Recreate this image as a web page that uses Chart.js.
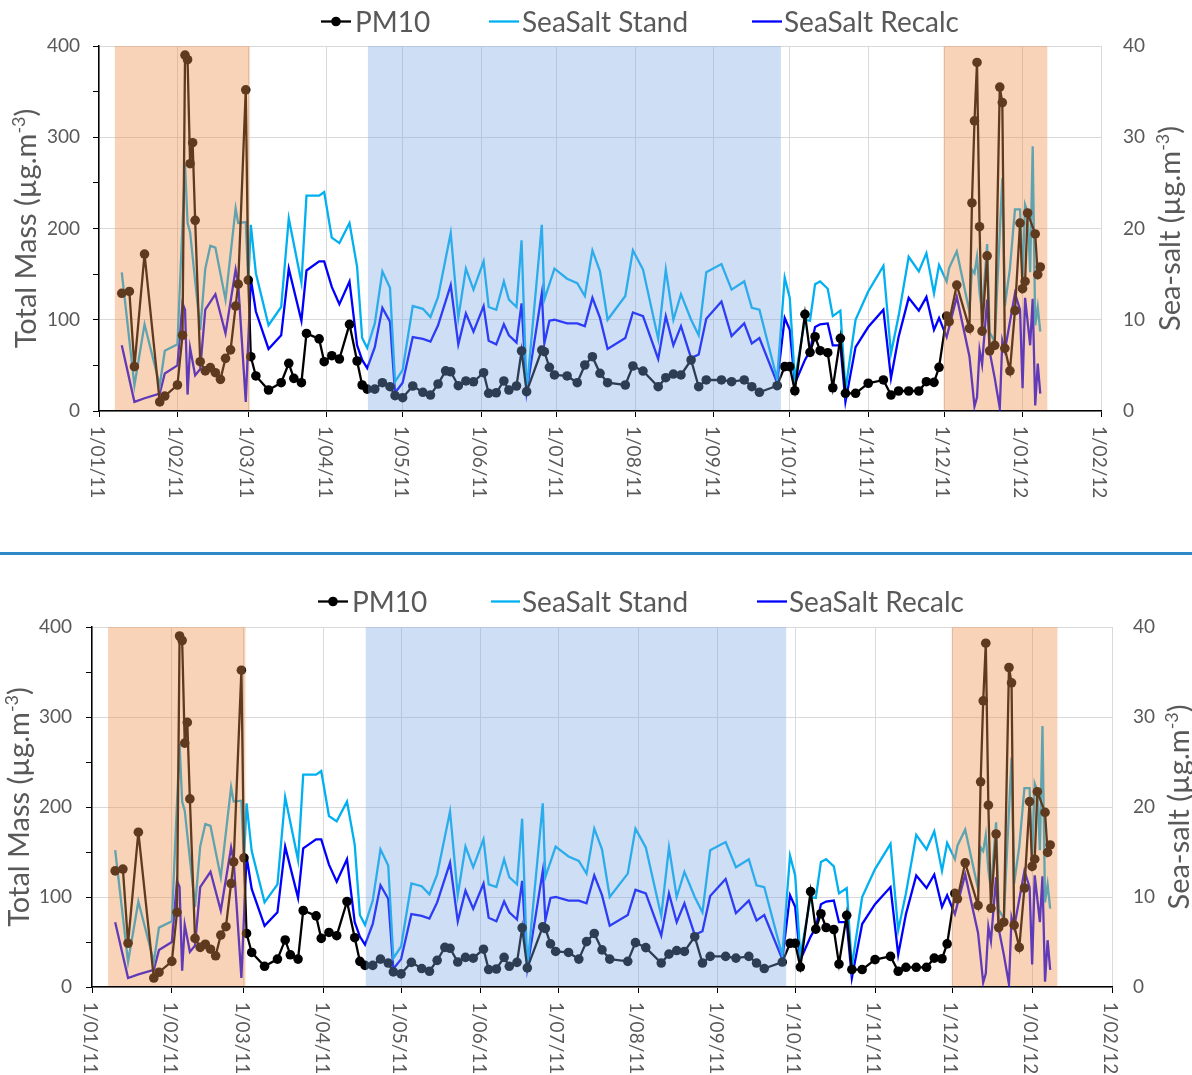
<!DOCTYPE html>
<html>
<head>
<meta charset="utf-8">
<script src="https://cdn.jsdelivr.net/npm/chart.js@4/dist/chart.umd.min.js"></script>
<style>
  html, body { margin: 0; padding: 0; background: #fff; width: 1192px; height: 1075px; overflow: hidden; }
  .panel { position: absolute; left: 0; width: 1192px; }
  #panelTop { top: 0; height: 552px; }
  #panelBottom { top: 555px; height: 520px; }
  #divider { position: absolute; left: 0; top: 552px; width: 1192px; height: 3px; background: #2F88C8; }
  canvas { display: block; }
</style>
</head>
<body>
<div class="panel" id="panelTop"><canvas id="chartTop" width="1192" height="552"></canvas></div>
<div id="divider"></div>
<div class="panel" id="panelBottom"><canvas id="chartBottom" width="1192" height="520"></canvas></div>
<script>
// Sampling dates (daily filter samples, Jan 2011 - Jan 2012)
const sampleDates = [
  '2011-01-10','2011-01-13','2011-01-15','2011-01-19','2011-01-25','2011-01-27','2011-02-01','2011-02-03',
  '2011-02-04','2011-02-05','2011-02-06','2011-02-07','2011-02-08','2011-02-10','2011-02-12','2011-02-14',
  '2011-02-16','2011-02-18','2011-02-20','2011-02-22','2011-02-24','2011-02-25','2011-02-28','2011-03-01',
  '2011-03-02','2011-03-04','2011-03-09','2011-03-14','2011-03-17','2011-03-19','2011-03-22','2011-03-24',
  '2011-03-29','2011-03-31','2011-04-03','2011-04-06','2011-04-10','2011-04-13','2011-04-15','2011-04-17',
  '2011-04-20','2011-04-23','2011-04-26','2011-04-28','2011-05-01','2011-05-05','2011-05-09','2011-05-12',
  '2011-05-15','2011-05-18','2011-05-20','2011-05-23','2011-05-26','2011-05-29','2011-06-02','2011-06-04',
  '2011-06-07','2011-06-10','2011-06-12','2011-06-15','2011-06-17','2011-06-19','2011-06-25','2011-06-26',
  '2011-06-28','2011-06-30','2011-07-05','2011-07-09','2011-07-12','2011-07-15','2011-07-18','2011-07-21',
  '2011-07-28','2011-07-31','2011-08-04','2011-08-10','2011-08-13','2011-08-16','2011-08-19','2011-08-23',
  '2011-08-26','2011-08-29','2011-09-04','2011-09-08','2011-09-13','2011-09-16','2011-09-19','2011-09-26',
  '2011-09-29','2011-10-01','2011-10-03','2011-10-07','2011-10-09','2011-10-11','2011-10-13','2011-10-16',
  '2011-10-18','2011-10-21','2011-10-23','2011-10-27','2011-11-01','2011-11-07','2011-11-10','2011-11-13',
  '2011-11-17','2011-11-21','2011-11-24','2011-11-27','2011-11-29','2011-12-02','2011-12-03','2011-12-06',
  '2011-12-11','2011-12-12','2011-12-13','2011-12-14','2011-12-15','2011-12-16','2011-12-18','2011-12-19',
  '2011-12-21','2011-12-23','2011-12-24','2011-12-25','2011-12-27','2011-12-29','2011-12-31','2012-01-01',
  '2012-01-02','2012-01-03','2012-01-04','2012-01-05','2012-01-06','2012-01-07','2012-01-08'
];

// PM10 total mass (µg/m3, left axis)
const pm10 = [
  129, 131, 48.6, 172, 10, 16.4, 28.5, 83,
  390, 385, 271, 294, 209, 54, 44, 47.5,
  42, 34.7, 57.7, 67, 115, 139, 352, 143.5,
  59.5, 38.4, 23, 31, 52.3, 35.8, 31, 85,
  79, 54, 60.6, 57, 95, 54.8, 28.5, 24,
  24, 31, 26.6, 16.8, 14.6, 27.4, 20.5, 17.5,
  29.6, 44, 43, 27.7, 32.9, 32, 42, 19.4,
  20, 32.9, 23, 27.4, 65.8, 21.2, 66.8, 65,
  47.9, 39.5, 38.4, 31, 50.4, 59.5, 41.3, 31,
  28.5, 49.3, 43.8, 26.6, 36.5, 40.5, 39.5, 55.9,
  26.6, 34, 34, 32.1, 34, 26.6, 20.5, 27.7,
  48.6, 48.6, 22.2, 106, 64.3, 81.4, 66.1, 63.9,
  25.5, 79.7, 19.4, 19.4, 30.4, 34, 17.5, 21.9,
  21.9, 21.9, 32.1, 31.4, 47.9, 104, 98, 138,
  90.6, 228, 318, 382, 202, 87.5, 170, 66,
  72, 355, 338, 68.7, 44, 110, 206, 134,
  142, 217, null, null, 194, 149.5, 157.8
];

// Sea-salt, standard calculation (µg/m3, right axis)
const seaSaltStand = [
  15.2, null, 2.8, 9.5, 2.8, 6.6, 7.3, null,
  27.0, 20.6, 19.6, null, null, 8.9, 15.6, 18.1,
  17.9, null, 12.2, null, 22.2, 20.6, 20.7, 14.0,
  20.4, 15.1, 9.4, 11.4, 21.1, null, 14.1, 23.6,
  23.6, 24.0, 19.0, 18.4, 20.6, 15.8, 8.0, 6.9,
  9.6, 15.3, 13.5, 3.2, 4.5, 11.5, 11.2, 10.3,
  12.5, null, 19.5, 10.2, 15.6, 13.3, 16.4, 11.4,
  11.1, 14.2, 12.2, 11.4, 18.7, 2.1, 20.4, 12.2,
  null, 15.6, 14.5, 14.0, 12.6, 17.6, 15.3, 10.0,
  12.6, 17.6, 15.5, 7.9, 15.5, 10.0, 12.8, 10.0,
  8.3, 15.2, 16.1, 13.3, 14.2, 11.3, 11.1, 3.5,
  14.6, 12.4, 3.4, 10.0, 9.9, 13.9, 14.2, 13.4,
  10.4, 11.0, 2.3, 10.0, 13.1, 15.9, 6.3, 10.4,
  16.9, 15.3, 17.3, 12.9, 16.0, 14.2, 15.7, 17.5,
  10.9, 15.5, 15.1, 16.9, 13.0, 10.8, 18.3, 8.6,
  7.6, null, 25.5, 11.5, 15.6, 22.1, 22.1, 14.5,
  22.6, 21.8, 15.2, 29.0, 9.4, 11.4, 8.7
];

// Sea-salt, recalculated (µg/m3, right axis)
const seaSaltRecalc = [
  7.2, null, 1.0, 1.4, 1.9, 4.1, 5.0, 11.8,
  11.1, 1.8, 6.9, null, 3.9, 4.6, 11.1, null,
  12.8, null, 8.5, null, 15.5, 14.0, 1.0, null,
  14.5, 10.9, 6.8, 8.3, 15.6, null, 9.9, 15.4,
  16.4, 16.4, 13.6, 11.7, 14.2, 7.2, 5.6, 4.7,
  7.0, 11.3, 9.8, 2.0, 3.1, 8.1, 7.9, 7.6,
  9.4, null, 13.8, 7.3, 10.7, 8.7, 11.5, 7.7,
  7.3, 9.5, 8.3, 7.5, 11.8, 2.1, 12.9, 7.4,
  9.9, 10.0, 9.6, 9.6, 9.3, 12.4, 10.2, 6.8,
  8.0, 10.8, 10.4, 5.7, 10.4, 7.2, 9.3, 5.8,
  6.2, 10.1, 12.0, 8.2, 9.6, 7.4, 8.0, 3.1,
  10.2, 8.9, 3.0, 5.6, 6.6, 9.2, 9.5, 9.6,
  7.2, 7.2, 1.0, 7.0, 9.2, 11.1, 3.6, 8.1,
  12.4, 11.0, 12.5, 8.9, 10.2, 8.1, null, 12.5,
  6.0, null, 0.5, 1.5, 6.7, 5.1, 12.2, 6.5,
  3.6, 0.3, 7.7, 6.6, null, 12.9, 11.1, 2.5,
  12.4, null, 7.2, 12.3, 0.6, 5.2, 1.9
];

// Month boundaries used as x-axis ticks
const monthTicks = [
  '2011-01-01','2011-02-01','2011-03-01','2011-04-01','2011-05-01','2011-06-01','2011-07-01',
  '2011-08-01','2011-09-01','2011-10-01','2011-11-01','2011-12-01','2012-01-01','2012-02-01'
];

// Highlighted periods
const winterPeriods = [['2011-01-07T06:00', '2011-03-01T14:00'], ['2011-11-30T19:00', '2012-01-10T19:00']];
const summerPeriods = [['2011-04-17T07:00', '2011-09-27T12:00']];

const T0 = Date.UTC(2011, 0, 1);
const DAY_MS = 86400000;
const toDay = s => (Date.parse(s.length > 10 ? s + 'Z' : s) - T0) / DAY_MS;
const tickLabel = s => {
  const [y, m, d] = s.split('-');
  return `${Number(d)}/${m}/${y.slice(2)}`;
};

const FONT = 'Lato, "Open Sans", sans-serif';
const TEXT = '#595959';
Chart.defaults.font.family = FONT;

const COLORS = { pm: '#000000', stand: '#00B0F0', recalc: '#0000FF' };
const WINTER_FILL = 'rgba(240,145,75,0.40)';
const SUMMER_FILL = 'rgba(120,165,228,0.37)';
const LINE_W = 2.3;

function drawTitle(ctx, main, sup, tail, baseX, cy) {
  const size = 29, supSize = 18;
  ctx.save();
  ctx.fillStyle = TEXT;
  ctx.textBaseline = 'alphabetic';
  ctx.font = `${size}px ${FONT}`;
  const w1 = ctx.measureText(main).width;
  const w3 = ctx.measureText(tail).width;
  ctx.font = `${supSize}px ${FONT}`;
  const w2 = ctx.measureText(sup).width;
  const total = w1 + w2 + w3;
  ctx.translate(baseX, cy);
  ctx.rotate(-Math.PI / 2);
  let x = -total / 2;
  ctx.font = `${size}px ${FONT}`;
  ctx.fillText(main, x, 0); x += w1;
  ctx.font = `${supSize}px ${FONT}`;
  ctx.fillText(sup, x, -11); x += w2;
  ctx.font = `${size}px ${FONT}`;
  ctx.fillText(tail, x, 0);
  ctx.restore();
}

function decorations(L) {
  return {
    id: 'decorations',
    afterDatasetsDraw(chart) {
      const { ctx, chartArea: a, scales: { x } } = chart;
      ctx.save();
      const band = (p, fill) => {
        const x1 = x.getPixelForValue(toDay(p[0]));
        const x2 = x.getPixelForValue(toDay(p[1]));
        ctx.fillStyle = fill;
        ctx.fillRect(x1, a.top, x2 - x1, a.bottom - a.top - 1);
      };
      winterPeriods.forEach(p => band(p, WINTER_FILL));
      summerPeriods.forEach(p => band(p, SUMMER_FILL));
      ctx.restore();
    },
    afterDraw(chart) {
      const { ctx, chartArea: a, scales: { x } } = chart;
      // rotated date labels, reading top to bottom
      ctx.save();
      ctx.fillStyle = TEXT;
      ctx.font = `19px ${FONT}`;
      ctx.textAlign = 'left';
      ctx.textBaseline = 'middle';
      monthTicks.forEach(m => {
        const px = x.getPixelForValue(toDay(m));
        ctx.save();
        ctx.translate(px - 2, a.bottom + 15);
        ctx.rotate(Math.PI / 2);
        ctx.fillText(tickLabel(m), 0, 0);
        ctx.restore();
      });
      ctx.restore();

      // axis titles
      drawTitle(ctx, 'Total Mass (µg.m', '-3', ')', L.leftTitleX, (a.top + a.bottom) / 2);
      drawTitle(ctx, 'Sea-salt (µg.m', '-3', ')', L.rightTitleX, (a.top + a.bottom) / 2);

      // legend
      ctx.save();
      ctx.font = `28px ${FONT}`;
      ctx.textBaseline = 'middle';
      ctx.textAlign = 'left';
      const items = [
        { label: chart.data.datasets[0].label, color: COLORS.pm, dot: true },
        { label: chart.data.datasets[1].label, color: COLORS.stand },
        { label: chart.data.datasets[2].label, color: COLORS.recalc }
      ];
      items.forEach((it, i) => {
        const pos = L.legend[i];
        ctx.strokeStyle = it.color;
        ctx.lineWidth = LINE_W;
        ctx.beginPath();
        ctx.moveTo(pos[0], L.legendY);
        ctx.lineTo(pos[1], L.legendY);
        ctx.stroke();
        if (it.dot) {
          ctx.fillStyle = it.color;
          ctx.beginPath();
          ctx.arc((pos[0] + pos[1]) / 2, L.legendY, 4.8, 0, Math.PI * 2);
          ctx.fill();
        }
        ctx.fillStyle = TEXT;
        ctx.fillText(it.label, pos[2], L.legendY + 1);
      });
      ctx.restore();
    }
  };
}

function buildChart(id, L) {
  const days = sampleDates.map(toDay);
  const pts = arr => arr.map((v, i) => ({ x: days[i], y: v }));
  const monthDays = monthTicks.map(toDay);
  return new Chart(document.getElementById(id), {
    type: 'line',
    data: {
      datasets: [
        { label: 'PM10', data: pts(pm10), yAxisID: 'y', borderColor: COLORS.pm, backgroundColor: COLORS.pm,
          borderWidth: LINE_W, pointRadius: 4.8, pointBorderWidth: 0, pointBackgroundColor: COLORS.pm,
          spanGaps: true, tension: 0 },
        { label: 'SeaSalt Stand', data: pts(seaSaltStand), yAxisID: 'y2', borderColor: COLORS.stand,
          borderWidth: LINE_W, pointRadius: 0, spanGaps: true, tension: 0 },
        { label: 'SeaSalt Recalc', data: pts(seaSaltRecalc), yAxisID: 'y2', borderColor: COLORS.recalc,
          borderWidth: LINE_W, pointRadius: 0, spanGaps: true, tension: 0 }
      ]
    },
    options: {
      responsive: false,
      animation: false,
      devicePixelRatio: 1,
      layout: { padding: { top: L.top, left: 0, right: 0, bottom: 0 } },
      plugins: { legend: { display: false }, tooltip: { enabled: false }, title: { display: false } },
      scales: {
        x: {
          type: 'linear', min: 0, max: 396,
          afterBuildTicks: s => { s.ticks = monthDays.map(v => ({ value: v })); },
          ticks: { display: false },
          grid: { color: '#d9d9d9', lineWidth: 1, tickColor: '#000', tickLength: 6 },
          border: { color: '#000', width: 1.5 },
          afterFit: s => { s.height = L.H - L.bottom; }
        },
        y: {
          position: 'left', min: 0, max: 400,
          ticks: { stepSize: 50, callback: v => (v % 100 === 0 ? String(v) : ''), color: TEXT,
                   font: { size: 19 }, padding: L.yPad },
          grid: { color: c => (c.tick && c.tick.value % 100 === 0 ? '#d9d9d9' : 'rgba(0,0,0,0)'),
                  tickColor: '#000', tickLength: 6 },
          border: { color: '#000', width: 1.5 },
          afterFit: s => { s.width = L.left; }
        },
        y2: {
          position: 'right', min: 0, max: 40,
          ticks: { stepSize: 10, color: TEXT, font: { size: 19 }, padding: L.y2Pad },
          grid: { display: false, drawTicks: false },
          border: { display: false },
          afterFit: s => { s.width = L.W - L.right; }
        }
      }
    },
    plugins: [decorations(L)]
  });
}

buildChart('chartTop', {
  W: 1192, H: 552, left: 99, right: 1101, top: 46, bottom: 411,
  yPad: 13, y2Pad: 22, legendY: 21.5,
  legend: [[321, 351, 355], [489, 519, 522], [752, 782, 784]],
  leftTitleX: 36, rightTitleX: 1180
});

buildChart('chartBottom', {
  W: 1192, H: 520, left: 92, right: 1112, top: 72, bottom: 432,
  yPad: 14, y2Pad: 21, legendY: 46.5,
  legend: [[318, 348, 352], [491, 520, 522], [757, 787, 789]],
  leftTitleX: 29, rightTitleX: 1189
});
</script>
</body>
</html>
